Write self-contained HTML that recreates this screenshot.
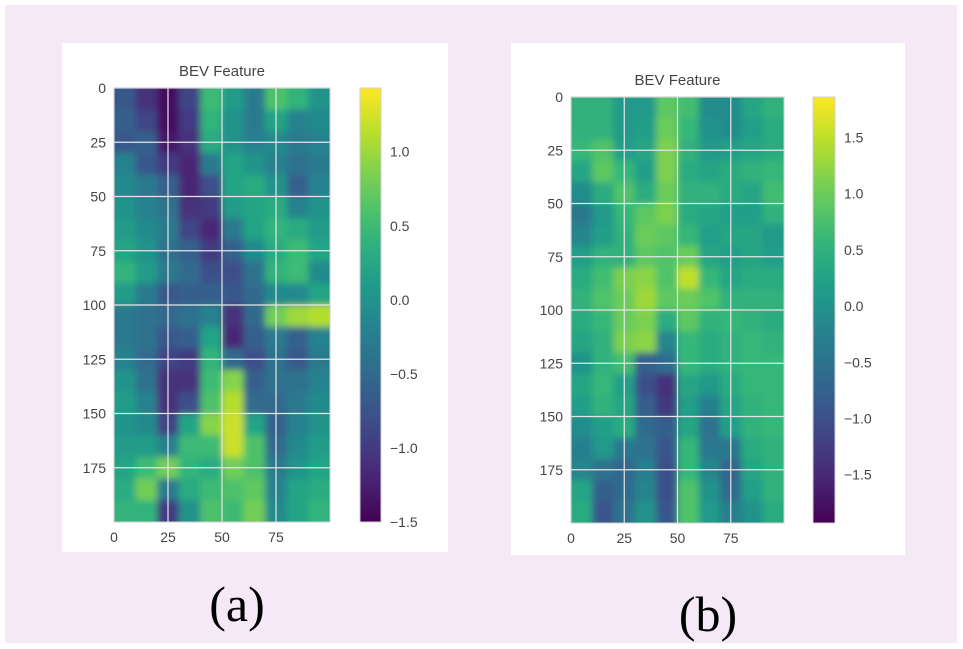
<!DOCTYPE html>
<html><head><meta charset="utf-8"><style>
body{margin:0;background:#fff;}
#wrap{position:relative;width:963px;height:649px;overflow:hidden;background:#fff;}
svg text{font-family:"Liberation Sans",sans-serif;}
</style></head><body>
<div id="wrap">
<svg id="svg" width="963" height="649" xmlns="http://www.w3.org/2000/svg">
<defs><filter id="soft" x="-5%" y="-5%" width="110%" height="110%"><feGaussianBlur stdDeviation="3.5"/></filter></defs>
<rect x="5" y="5" width="952" height="638" fill="#f4e9f4"/>
<rect x="62" y="43" width="386" height="509" fill="#fff"/>
<rect x="511" y="43" width="394" height="512" fill="#fff"/>
<text x="237" y="621" font-size="50" text-anchor="middle" style="font-family:'Liberation Serif',serif" fill="#000">(a)</text>
<text x="708" y="631" font-size="50" text-anchor="middle" style="font-family:'Liberation Serif',serif" fill="#000">(b)</text>
</svg>
</div>
<script>
const gridA = [
[-0.7,-1.1,-1.4,-0.9,0.5,0.1,-0.3,0.6,0.4,0.0],
[-0.6,-0.9,-1.4,-1.0,0.4,0.0,-0.3,0.2,-0.2,-0.1],
[-0.7,-0.6,-1.3,-1.1,0.3,0.0,-0.2,-0.1,-0.3,-0.2],
[-0.2,-0.7,-1.0,-1.2,-0.3,0.2,0.0,-0.2,-0.4,-0.3],
[-0.1,-0.3,-0.6,-1.2,-0.8,0.2,0.3,0.0,-0.6,-0.2],
[0.0,-0.2,-0.4,-1.1,-1.0,0.1,0.2,0.3,-0.2,0.0],
[0.1,-0.1,-0.3,-0.9,-1.2,-0.3,0.2,0.4,0.3,0.1],
[0.2,0.0,-0.4,-0.6,-1.0,-0.6,-0.1,0.3,0.5,0.2],
[0.4,0.1,-0.3,-0.5,-0.8,-0.8,-0.4,0.4,0.5,-0.1],
[0.1,-0.3,-0.7,-0.6,-0.6,-0.7,-0.5,-0.1,-0.1,0.2],
[-0.3,-0.4,-0.5,-0.4,-0.2,-1.1,-0.5,0.8,1.0,1.1],
[-0.3,-0.4,-0.7,-0.6,0.2,-1.2,-0.6,-0.3,-0.6,-0.2],
[-0.2,-0.5,-0.9,-1.0,0.4,-0.5,-0.8,-0.4,-0.7,-0.3],
[0.0,-0.4,-1.1,-1.1,0.5,0.9,-0.6,-0.4,-0.4,-0.2],
[0.1,-0.2,-1.1,-0.8,0.6,1.1,-0.5,-0.5,-0.3,-0.1],
[0.0,-0.1,-0.9,0.2,0.9,1.2,0.2,-0.6,-0.2,0.0],
[0.1,0.1,-0.2,0.5,0.5,1.2,0.6,-0.5,-0.1,0.1],
[0.2,0.5,0.8,0.4,0.3,0.8,0.6,-0.3,0.0,0.2],
[0.3,0.8,-0.3,0.3,0.5,0.6,0.7,-0.2,0.2,0.3],
[0.4,0.4,-1.0,0.0,0.6,0.5,0.8,-0.1,0.2,0.4]];
const gridB = [
[0.5,0.5,0.1,0.1,0.9,0.7,-0.1,-0.1,0.3,0.5],
[0.5,0.5,0.1,0.2,1.0,0.6,0.0,-0.1,0.2,0.4],
[0.6,0.8,0.2,0.3,1.1,0.5,0.1,0.2,0.3,0.4],
[0.3,0.9,0.6,0.2,1.1,0.4,0.3,0.4,0.5,0.6],
[-0.1,0.4,0.8,0.4,1.0,0.5,0.5,0.4,0.3,0.7],
[-0.4,0.1,0.6,0.9,1.1,0.4,0.3,0.2,0.2,0.5],
[-0.2,0.2,0.5,1.0,0.9,0.6,0.2,0.3,0.3,0.1],
[0.2,0.5,0.5,0.9,0.8,1.0,0.3,0.2,0.3,0.2],
[0.4,0.7,1.1,1.2,0.8,1.5,0.6,0.3,0.4,0.4],
[0.5,0.8,1.0,1.3,0.9,1.0,0.8,0.5,0.5,0.5],
[0.4,0.6,1.0,1.1,0.4,0.9,0.5,0.6,0.5,0.4],
[0.3,0.5,1.1,1.2,-0.2,0.6,0.4,0.5,0.6,0.5],
[0.0,0.5,0.7,-0.8,-0.6,0.6,0.4,0.5,0.6,0.6],
[0.3,0.6,0.2,-1.0,-1.4,0.3,0.1,0.4,0.6,0.6],
[0.2,0.5,0.3,-0.8,-1.3,0.2,-0.3,0.3,0.5,0.6],
[-0.1,0.2,0.4,-0.6,-0.8,0.3,-0.5,0.2,0.5,0.6],
[-0.3,0.1,-0.4,-0.5,-0.9,0.6,-0.4,-0.4,0.4,0.5],
[-0.2,-0.5,-0.7,-0.3,-1.0,0.6,-0.2,-0.7,0.3,0.5],
[0.3,-0.8,-0.6,-0.2,-1.0,0.8,0.0,-0.6,0.2,0.5],
[0.4,-0.9,-0.5,0.0,-0.9,0.8,0.1,-0.3,0.0,0.4]];
const xTicks = [0,25,50,75];
const yTicks = [0,25,50,75,100,125,150,175];
const cbTicksA = [1.0,0.5,0.0,-0.5,-1.0,-1.5];
const cbTicksB = [1.5,1.0,0.5,0.0,-0.5,-1.0,-1.5];
const rangeA = [-1.5,1.43];
const rangeB = [-1.93,1.86];

const VIR=[[68,1,84],[72,40,120],[62,74,137],[49,104,142],[38,130,142],[31,158,137],[53,183,121],[109,205,89],[180,222,44],[253,231,37]];
function viridis(t){t=Math.max(0,Math.min(1,t));const f=t*(VIR.length-1);const i=Math.min(VIR.length-2,Math.floor(f));const u=f-i;
const c=VIR[i].map((v,k)=>Math.round(v+(VIR[i+1][k]-v)*u));return `rgb(${c[0]},${c[1]},${c[2]})`;}
const svg=document.getElementById('svg');const NS='http://www.w3.org/2000/svg';
function mk(tag,attrs,parent){const e=document.createElementNS(NS,tag);for(const k in attrs)e.setAttribute(k,attrs[k]);(parent||svg).appendChild(e);return e;}

function drawPanel(id,grid,range,cbTicks,P){
  const defs=mk('defs',{});
  const cp=mk('clipPath',{id:'clip'+id},defs);
  mk('rect',{x:P.l,y:P.t,width:P.r-P.l,height:P.b-P.t},cp);
  const outer=mk('g',{'clip-path':`url(#clip${id})`});
  
  
  const g=mk('g',{filter:'url(#soft)'},outer);
  const nR=200,nC=100;
  const xs=v=>P.l+(v/nC)*(P.r-P.l), ys=v=>P.t+(v/nR)*(P.b-P.t);
  const rows=grid.length,cols=grid[0].length;
  const cw=nC/cols,rh=nR/rows;
  grid.forEach((row,ri)=>row.forEach((v,ci)=>{
    const x0=ci===0?P.l-10:xs(ci*cw), y0=ri===0?P.t-10:ys(ri*rh);
    const x1=ci===cols-1?P.r+10:xs((ci+1)*cw)+0.6, y1=ri===rows-1?P.b+10:ys((ri+1)*rh)+0.6;
    const r=mk('rect',{x:x0,y:y0,width:x1-x0,height:y1-y0,fill:viridis((v-range[0])/(range[1]-range[0]))},g);
    
    
  }));
  xTicks.forEach(t=>{const l=mk('line',{x1:xs(t),x2:xs(t),y1:P.t,y2:P.b,stroke:'#e6e6e6','stroke-width':1.2});
    
    const tx=mk('text',{x:xs(t),y:P.b+20,'font-size':14,fill:'#444','text-anchor':'middle'});tx.textContent=t;
    });
  yTicks.forEach(t=>{const l=mk('line',{x1:P.l,x2:P.r,y1:ys(t),y2:ys(t),stroke:'#e6e6e6','stroke-width':1.2});
    
    const tx=mk('text',{x:P.l-8,y:ys(t)+5,'font-size':14,fill:'#444','text-anchor':'end'});tx.textContent=t;
    });
  const bd=mk('rect',{x:P.l,y:P.t,width:P.r-P.l,height:P.b-P.t,fill:'none',stroke:'#d0d0d0','stroke-width':1});
  
  const ti=mk('text',{x:(P.l+P.r)/2,y:P.t-12,'font-size':15,fill:'#444','text-anchor':'middle'});ti.textContent='BEV Feature';
  
  const gid='grad'+id;const lg=mk('linearGradient',{id:gid,x1:0,y1:1,x2:0,y2:0},defs);
  for(let i=0;i<=20;i++){mk('stop',{offset:i/20,'stop-color':viridis(i/20)},lg);}
  const cb=mk('rect',{x:P.cl,y:P.t,width:P.cr-P.cl,height:P.b-P.t,fill:`url(#${gid})`,stroke:'#d0d0d0','stroke-width':1});
  
  const cy=v=>P.b-(v-range[0])/(range[1]-range[0])*(P.b-P.t);
  cbTicks.forEach(t=>{const tx=mk('text',{x:P.cr+9,y:cy(t)+5,'font-size':14,fill:'#444'});
    tx.textContent=(t<0?'\u2212':'')+Math.abs(t).toFixed(1);
    });
}
drawPanel('a',gridA,rangeA,cbTicksA,{l:114,r:330,t:88,b:522,cl:360,cr:381});
drawPanel('b',gridB,rangeB,cbTicksB,{l:571,r:784,t:97,b:523,cl:813,cr:835});
</script>
</body></html>
